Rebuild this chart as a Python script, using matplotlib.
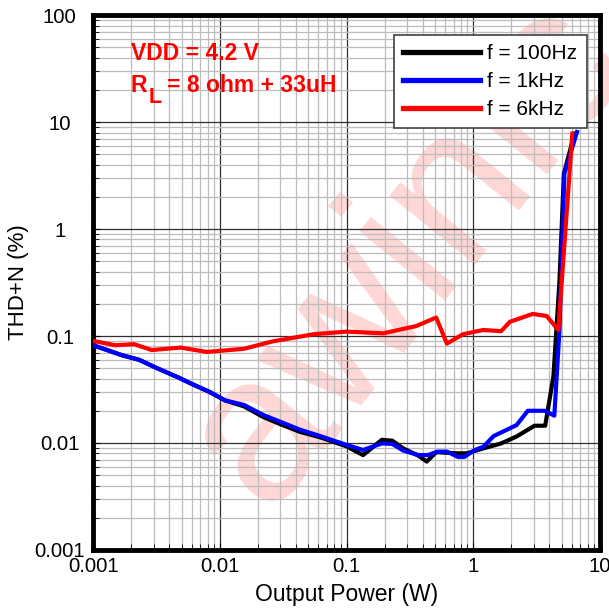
import numpy as np
import matplotlib
matplotlib.use("Agg")
from matplotlib import pyplot as plt
from matplotlib.ticker import LogLocator, FuncFormatter, NullFormatter

plt.rcParams["font.family"] = ["Liberation Sans", "DejaVu Sans"]

# f = 100Hz
p_100 = [0.001, 0.0017, 0.0023, 0.0032, 0.0047, 0.0059, 0.0083, 0.011, 0.0155,
         0.022, 0.030, 0.043, 0.062, 0.10, 0.135, 0.19, 0.23, 0.28, 0.37, 0.43,
         0.51, 0.76, 0.89, 1.2, 1.66, 2.2, 3.05, 3.7, 4.3, 4.8, 5.2, 6.3]
thd_100 = [0.082, 0.066, 0.060, 0.050, 0.041, 0.036, 0.030, 0.025, 0.022,
           0.0175, 0.015, 0.0127, 0.0113, 0.0093, 0.0077, 0.0107, 0.0105, 0.0089,
           0.0076, 0.0067, 0.0082, 0.008, 0.008, 0.0089, 0.0099, 0.0115, 0.0145,
           0.0145, 0.042, 0.33, 3.3, 7.8]

# f = 1kHz
p_1k = [0.001, 0.0017, 0.0023, 0.0032, 0.0047, 0.0059, 0.0083, 0.011, 0.0155,
        0.022, 0.030, 0.043, 0.062, 0.10, 0.135, 0.19, 0.23, 0.28, 0.37, 0.44,
        0.52, 0.62, 0.76, 0.85, 1.03, 1.2, 1.45, 2.2, 2.7, 3.67, 4.37, 4.8,
        5.25, 6.6]
thd_1k = [0.082, 0.066, 0.060, 0.050, 0.041, 0.036, 0.030, 0.025, 0.0227,
          0.0183, 0.0158, 0.0133, 0.0116, 0.0096, 0.0086, 0.0099, 0.0098, 0.0085,
          0.0077, 0.0077, 0.0083, 0.0083, 0.0074, 0.0074, 0.0086, 0.0092, 0.0116,
          0.0147, 0.020, 0.020, 0.018, 0.114, 3.3, 8.1]

# f = 6kHz
p_6k = [0.001, 0.0015, 0.0021, 0.0029, 0.0049, 0.0079, 0.0155, 0.026, 0.055,
        0.10, 0.195, 0.355, 0.51, 0.62, 0.83, 1.2, 1.66, 1.95, 2.95, 3.8, 4.7,
        6.06]
thd_6k = [0.09, 0.082, 0.084, 0.074, 0.078, 0.071, 0.076, 0.089, 0.104,
          0.11, 0.106, 0.124, 0.149, 0.085, 0.104, 0.114, 0.111, 0.136, 0.161,
          0.154, 0.114, 7.8]

W = 609.0

fig = plt.figure(figsize=(6.09, 6.09), dpi=100)
ax = fig.add_axes([0.153, 0.097, 0.832, 0.878])
ax.patch.set_visible(False)  # let the watermark show under the grid

ax.plot(p_100, thd_100, color="black", lw=3, label="f = 100Hz", zorder=3)
ax.plot(p_1k, thd_1k, color="blue", lw=3, label="f = 1kHz", zorder=4)
ax.plot(p_6k, thd_6k, color="red", lw=3, label="f = 6kHz", zorder=5)

ax.set_xscale("log")
ax.set_yscale("log")
ax.set_xlim(0.001, 10)
ax.set_ylim(0.001, 100)

fmt = FuncFormatter(lambda v, pos: "{:g}".format(v))
ax.xaxis.set_major_locator(LogLocator(base=10, numticks=10))
ax.yaxis.set_major_locator(LogLocator(base=10, numticks=10))
ax.xaxis.set_minor_locator(LogLocator(base=10, subs=np.arange(2, 10), numticks=20))
ax.yaxis.set_minor_locator(LogLocator(base=10, subs=np.arange(2, 10), numticks=20))
ax.xaxis.set_major_formatter(fmt)
ax.yaxis.set_major_formatter(fmt)
ax.xaxis.set_minor_formatter(NullFormatter())
ax.yaxis.set_minor_formatter(NullFormatter())

ax.grid(which="major", color="#303030", lw=0.9)
ax.grid(which="minor", color="#bcbcbc", lw=0.9)
ax.set_axisbelow(True)
ax.tick_params(which="both", direction="in", length=5, labelsize=14.7)
ax.tick_params(which="minor", length=4)
ax.tick_params(axis="x", pad=5)
ax.tick_params(axis="y", pad=24)
for lab in ax.get_yticklabels():
    lab.set_horizontalalignment("center")
for s in ax.spines.values():
    s.set_linewidth(3.5)

ax.set_xlabel("Output Power (W)", fontsize=16.5)
ax.set_ylabel("THD+N (%)", fontsize=16)
ax.xaxis.set_label_coords(0.5, -0.084)
ax.xaxis.label.set_va("center")
ax.yaxis.set_label_coords(-0.148, 0.5)
ax.yaxis.label.set_va("center")

# annotation, positions in picture pixels
fig.text(130.7 / W, 1 - 60 / W, "VDD = 4.2 V", color="red", fontsize=16.5,
         fontweight="bold", va="baseline", zorder=6)
fig.text(130.7 / W, 1 - 92 / W, "R", color="red", fontsize=16.5,
         fontweight="bold", va="baseline", zorder=6)
fig.text(149 / W, 1 - 103 / W, "L", color="red", fontsize=15.5,
         fontweight="bold", va="baseline", zorder=6)
fig.text(167 / W, 1 - 92 / W, "= 8 ohm + 33uH", color="red", fontsize=16.5,
         fontweight="bold", va="baseline", zorder=6)

leg = ax.legend(loc="upper right", bbox_to_anchor=(0.974, 0.963),
                borderaxespad=0, fontsize=15, fancybox=False, framealpha=1,
                edgecolor="#404040", handlelength=3.7, handletextpad=0.35,
                labelspacing=0.42, borderpad=0.45)
leg.get_frame().set_linewidth(1.2)
for line in leg.get_lines():
    line.set_linewidth(3.8)

# watermark, drawn behind the axes
fig.text(0.668, 0.585, "awinic", fontsize=150, color="red", alpha=0.16,
         rotation=51, ha="center", va="center", zorder=-1)

fig.savefig("out.png", dpi=100)
